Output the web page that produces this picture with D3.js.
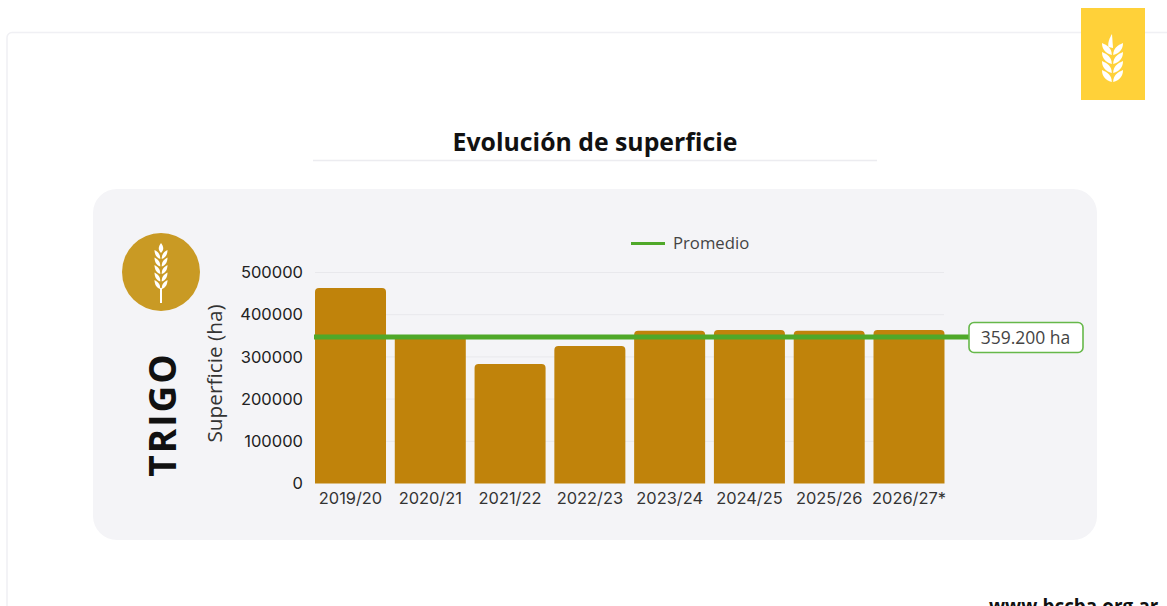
<!DOCTYPE html>
<html>
<head>
<meta charset="utf-8">
<script src="https://cdn.jsdelivr.net/npm/d3@7"></script>
<style>
html, body { margin: 0; padding: 0; background: #fff; overflow: hidden; }
text { font-family: "Open Sans", sans-serif; }
</style>
</head>
<body>
<div id="chart"></div>
<script>
// data
var campaigns = ["2019/20", "2020/21", "2021/22", "2022/23", "2023/24", "2024/25", "2025/26", "2026/27*"];
var superficie = [463000, 350000, 283000, 326000, 362000, 364000, 362000, 364000];
var promedio = 347000;
var promedioLabel = "359.200 ha";
var yTicks = [0, 100000, 200000, 300000, 400000, 500000];

var svg = d3.select("#chart").append("svg")
    .attr("width", 1167)
    .attr("height", 606)
    .style("display", "block");

// page frame
svg.append("path")
    .attr("d", "M1167,32.5H12a5,5 0 0 0 -5,5V606")
    .attr("fill", "none")
    .attr("stroke", "#f0f0f4")
    .attr("stroke-width", 1.5);

// wheat ear: pairs of leaves going down from y = 0
function wheat(g, pairs, w, h, step) {
    for (var i = 0; i < pairs; i++) {
        var t = i * step, b = t + h;
        [-1, 1].forEach(function(s) {
            g.append("path")
                .attr("fill", "#fff")
                .attr("d", "M" + (s * 0.7) + "," + b + "C" + (s * w * 0.7) + "," + (b - h * 0.15) + " " + (s * w) + "," + (t + h * 0.5) + " " + (s * w) + "," + t +
                    "C" + (s * w * 0.5) + "," + (t + h * 0.2) + " " + (s * 0.7) + "," + (t + h * 0.4) + " " + (s * 0.7) + "," + b + "Z");
        });
    }
}

// yellow tab top right
svg.append("rect").attr("x", 1081).attr("y", 8).attr("width", 64).attr("height", 92).attr("fill", "#ffd139");
var tabEar = svg.append("g").attr("transform", "translate(1112.5,43)");
wheat(tabEar, 4, 10.5, 12, 9);
tabEar.append("path").attr("fill", "#fff").attr("d", "M-0.5,-9L0.5,5L-4,4C-5,0 -3,-5 -0.5,-9Z");

// title
svg.append("text")
    .attr("x", 595).attr("y", 150.5)
    .attr("text-anchor", "middle")
    .style("font-size", "24.8px")
    .style("font-weight", 700)
    .attr("fill", "#111")
    .text("Evolución de superficie");
svg.append("line")
    .attr("x1", 313).attr("x2", 877).attr("y1", 160.5).attr("y2", 160.5)
    .attr("stroke", "#ececf0").attr("stroke-width", 1.5);

// grey panel
svg.append("rect")
    .attr("x", 93).attr("y", 189).attr("width", 1004).attr("height", 351)
    .attr("rx", 24).attr("fill", "#f4f4f7");

// round icon
var icon = svg.append("g").attr("transform", "translate(161,272)");
icon.append("circle").attr("r", 39).attr("fill", "#c99a24");
var iconEar = icon.append("g").attr("transform", "translate(0,-22)");
wheat(iconEar, 5, 6.5, 9, 7.5);
iconEar.append("path").attr("fill", "#fff").attr("d", "M0,-7C3,-3 3,0 0,3C-3,0 -3,-3 0,-7Z");
iconEar.append("rect").attr("x", -1).attr("y", 38).attr("width", 2).attr("height", 15).attr("fill", "#fff");

svg.append("text")
    .attr("transform", "translate(176,414.5) rotate(-90)")
    .attr("text-anchor", "middle")
    .style("font-size", "37px")
    .style("font-weight", 700)
    .style("letter-spacing", "2px")
    .attr("fill", "#111")
    .text("TRIGO");

// scales
var x = d3.scaleBand().domain(campaigns).range([315, 944.5]).paddingInner(0.11);
var y = d3.scaleLinear().domain([0, 500000]).range([483.5, 272.5]);

// grid
svg.append("g").selectAll("line")
    .data(yTicks.slice(1))
    .enter().append("line")
    .attr("x1", 315).attr("x2", 944)
    .attr("y1", function(d) { return y(d); })
    .attr("y2", function(d) { return y(d); })
    .attr("stroke", "#e8e8ec");

// bars, only the top corners are rounded
svg.append("g").selectAll("path")
    .data(campaigns)
    .enter().append("path")
    .attr("fill", "#c0830b")
    .attr("d", function(d, i) {
        var x0 = x(d), w = x.bandwidth(), t = y(superficie[i]), r = 4;
        return "M" + x0 + "," + y(0) + "V" + (t + r) + "Q" + x0 + "," + t + " " + (x0 + r) + "," + t +
            "H" + (x0 + w - r) + "Q" + (x0 + w) + "," + t + " " + (x0 + w) + "," + (t + r) + "V" + y(0) + "Z";
    });

// axes
var yAxis = svg.append("g")
    .attr("transform", "translate(303,0)")
    .call(d3.axisLeft(y).tickValues(yTicks).tickSize(0).tickPadding(0).tickFormat(d3.format("d")));
yAxis.select(".domain").remove();
yAxis.selectAll("text")
    .style("font-family", "Inter, sans-serif")
    .style("font-size", "16.5px")
    .attr("fill", "#222");

var xAxis = svg.append("g")
    .attr("transform", "translate(0,483.5)")
    .call(d3.axisBottom(x).tickSize(0).tickPadding(9));
xAxis.select(".domain").remove();
xAxis.selectAll("text")
    .style("font-family", "Inter, sans-serif")
    .style("font-size", "16.4px")
    .attr("fill", "#333");

svg.append("text")
    .attr("transform", "translate(222,373.5) rotate(-90)")
    .attr("text-anchor", "middle")
    .style("font-size", "20.8px")
    .attr("fill", "#333")
    .text("Superficie (ha)");

// average line and its label
svg.append("line")
    .attr("x1", 314).attr("x2", 970)
    .attr("y1", y(promedio)).attr("y2", y(promedio))
    .attr("stroke", "#4fa829").attr("stroke-width", 5);
svg.append("rect")
    .attr("x", 969).attr("y", 322.5).attr("width", 114).attr("height", 30)
    .attr("rx", 5).attr("fill", "#fff")
    .attr("stroke", "#66b84a").attr("stroke-width", 1.6);
svg.append("text")
    .attr("x", 1025.5).attr("y", 343.5)
    .attr("text-anchor", "middle")
    .style("font-size", "17.5px")
    .attr("fill", "#444")
    .text(promedioLabel);

// legend
svg.append("line")
    .attr("x1", 631).attr("x2", 665).attr("y1", 243.5).attr("y2", 243.5)
    .attr("stroke", "#4fa829").attr("stroke-width", 3);
svg.append("text")
    .attr("x", 673).attr("y", 249)
    .style("font-size", "16.7px")
    .attr("fill", "#444")
    .text("Promedio");

// footer, cut by the window
svg.append("text")
    .attr("x", 989).attr("y", 613)
    .style("font-size", "18.8px")
    .style("font-weight", 700)
    .attr("fill", "#111")
    .text("www.bccba.org.ar");
</script>
</body>
</html>
